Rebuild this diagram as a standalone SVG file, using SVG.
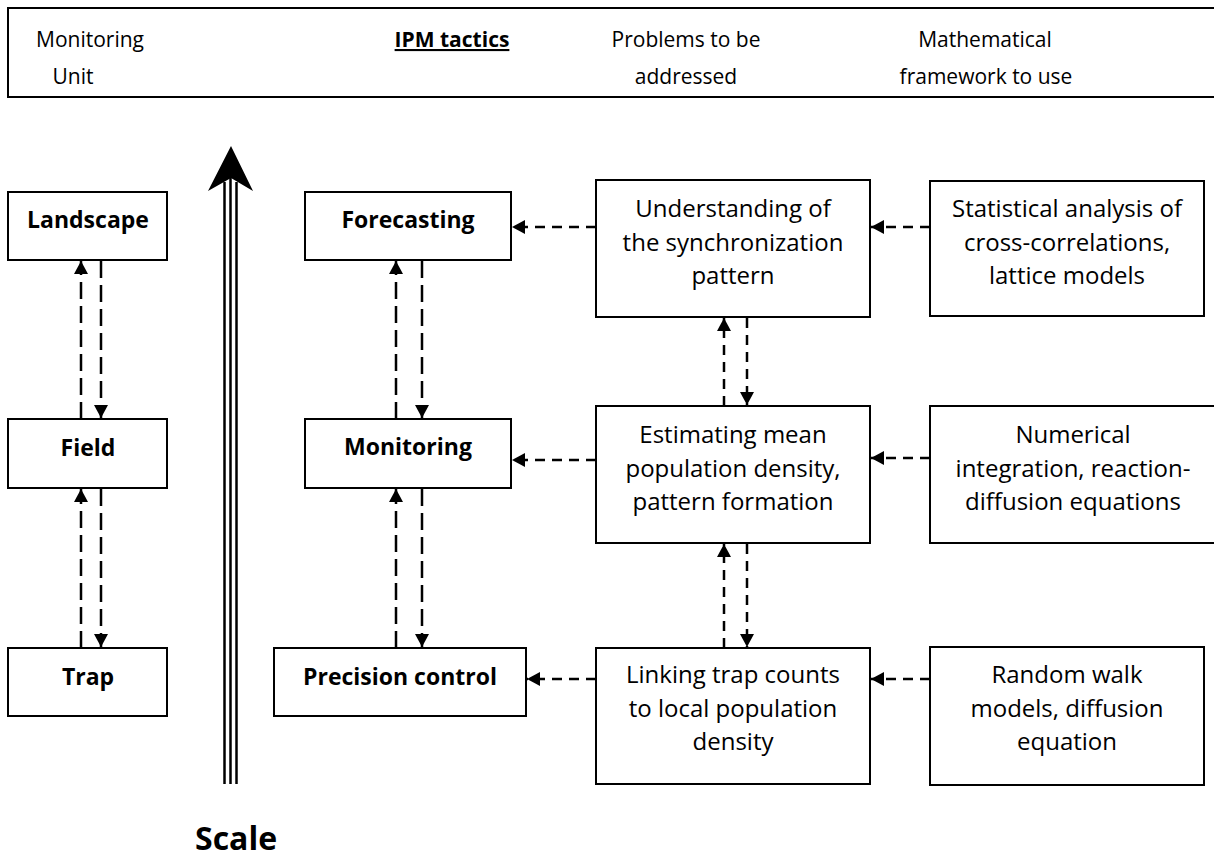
<svg xmlns="http://www.w3.org/2000/svg" width="1214" height="859" viewBox="0 0 1214 859">
<defs>
<style>
.box{fill:#fff;stroke:#000;stroke-width:2}
.t{font-family:"Open Sans","Liberation Sans",sans-serif;font-size:24px;fill:#000;text-anchor:middle}
.b{font-family:"Open Sans","Liberation Sans",sans-serif;font-size:23px;font-weight:bold;fill:#000;text-anchor:middle}
.h{font-family:"Open Sans","Liberation Sans",sans-serif;font-size:21px;fill:#000;text-anchor:middle}
.dl{fill:none;stroke:#000;stroke-width:2.5;stroke-dasharray:17 7}
.ds{fill:none;stroke:#000;stroke-width:2.5;stroke-dasharray:10 7}
.sc{stroke:#000;stroke-width:2.5}
</style>
<marker id="ah" viewBox="0 0 13 14" refX="13" refY="7" markerWidth="13" markerHeight="14" markerUnits="userSpaceOnUse" orient="auto">
<path d="M0,0 L13,7 L0,14 Z" fill="#000"/>
</marker>
</defs>

<g id="header">
<rect x="8" y="8" width="1215" height="89" fill="#fff" stroke="#000" stroke-width="2"/>
<text class="h" x="90" y="47">Monitoring</text>
<text class="h" x="73" y="84">Unit</text>
<text class="h" x="452" y="47" font-weight="bold" text-decoration="underline">IPM tactics</text>
<text class="h" x="686" y="47">Problems to be</text>
<text class="h" x="686" y="84">addressed</text>
<text class="h" x="985" y="47">Mathematical</text>
<text class="h" x="986" y="84">framework to use</text>
</g>

<g id="scale">
<line class="sc" x1="224.5" y1="182" x2="224.5" y2="784"/>
<line class="sc" x1="230.5" y1="178" x2="230.5" y2="784"/>
<line class="sc" x1="236.5" y1="182" x2="236.5" y2="784"/>
<polygon points="231,146 253,191 231,178 208,191" fill="#000"/>
<text x="195" y="850" font-family="'Open Sans','Liberation Sans',sans-serif" font-size="32" font-weight="bold">Scale</text>
</g>

<g id="landscape"><rect class="box" x="8" y="192" width="159" height="68"/><text class="b" x="88" y="228">Landscape</text></g>
<g id="field"><rect class="box" x="8" y="419" width="159" height="69"/><text class="b" x="88" y="456">Field</text></g>
<g id="trap"><rect class="box" x="8" y="648" width="159" height="68"/><text class="b" x="88" y="685">Trap</text></g>

<g id="forecasting"><rect class="box" x="305" y="192" width="206" height="68"/><text class="b" x="408" y="228">Forecasting</text></g>
<g id="monitoring"><rect class="box" x="305" y="419" width="206" height="69"/><text class="b" x="408" y="455">Monitoring</text></g>
<g id="precision"><rect class="box" x="274" y="648" width="252" height="68"/><text class="b" x="400" y="685">Precision control</text></g>

<g id="understanding"><rect class="box" x="596" y="180" width="274" height="137"/>
<text class="t" x="733" y="217">Understanding of</text><text class="t" x="733" y="251">the synchronization</text><text class="t" x="733" y="284">pattern</text></g>
<g id="estimating"><rect class="box" x="596" y="406" width="274" height="137"/>
<text class="t" x="733" y="443">Estimating mean</text><text class="t" x="733" y="477">population density,</text><text class="t" x="733" y="510">pattern formation</text></g>
<g id="linking"><rect class="box" x="596" y="648" width="274" height="136"/>
<text class="t" x="733" y="683">Linking trap counts</text><text class="t" x="733" y="717">to local population</text><text class="t" x="733" y="750">density</text></g>

<g id="statistical"><rect class="box" x="930" y="181" width="274" height="135"/>
<text class="t" x="1067" y="217">Statistical analysis of</text><text class="t" x="1067" y="251">cross-correlations,</text><text class="t" x="1067" y="284">lattice models</text></g>
<g id="numerical"><rect class="box" x="930" y="406" width="290" height="137"/>
<text class="t" x="1073" y="443">Numerical</text><text class="t" x="1073" y="477">integration, reaction-</text><text class="t" x="1073" y="510">diffusion equations</text></g>
<g id="random"><rect class="box" x="930" y="647" width="274" height="138"/>
<text class="t" x="1067" y="683">Random walk</text><text class="t" x="1067" y="717">models, diffusion</text><text class="t" x="1067" y="750">equation</text></g>

<g id="connectors">
<line class="dl" x1="81" y1="419" x2="81" y2="261" marker-end="url(#ah)"/>
<line class="dl" x1="101" y1="261" x2="101" y2="418" marker-end="url(#ah)"/>
<line class="dl" x1="81" y1="648" x2="81" y2="489" marker-end="url(#ah)"/>
<line class="dl" x1="101" y1="489" x2="101" y2="647" marker-end="url(#ah)"/>
<line class="dl" x1="396" y1="419" x2="396" y2="261" marker-end="url(#ah)"/>
<line class="dl" x1="422" y1="261" x2="422" y2="418" marker-end="url(#ah)"/>
<line class="dl" x1="396" y1="648" x2="396" y2="489" marker-end="url(#ah)"/>
<line class="dl" x1="422" y1="489" x2="422" y2="647" marker-end="url(#ah)"/>
<line class="ds" x1="724" y1="406" x2="724" y2="318" marker-end="url(#ah)"/>
<line class="ds" x1="747" y1="318" x2="747" y2="405" marker-end="url(#ah)"/>
<line class="ds" x1="724" y1="648" x2="724" y2="544" marker-end="url(#ah)"/>
<line class="ds" x1="747" y1="544" x2="747" y2="647" marker-end="url(#ah)"/>
<line class="ds" x1="596" y1="227" x2="512" y2="227" marker-end="url(#ah)"/>
<line class="ds" x1="596" y1="460" x2="512" y2="460" marker-end="url(#ah)"/>
<line class="ds" x1="596" y1="679" x2="527" y2="679" marker-end="url(#ah)"/>
<line class="ds" x1="930" y1="227" x2="871" y2="227" marker-end="url(#ah)"/>
<line class="ds" x1="930" y1="458" x2="871" y2="458" marker-end="url(#ah)"/>
<line class="ds" x1="930" y1="679" x2="871" y2="679" marker-end="url(#ah)"/>
</g>
</svg>
